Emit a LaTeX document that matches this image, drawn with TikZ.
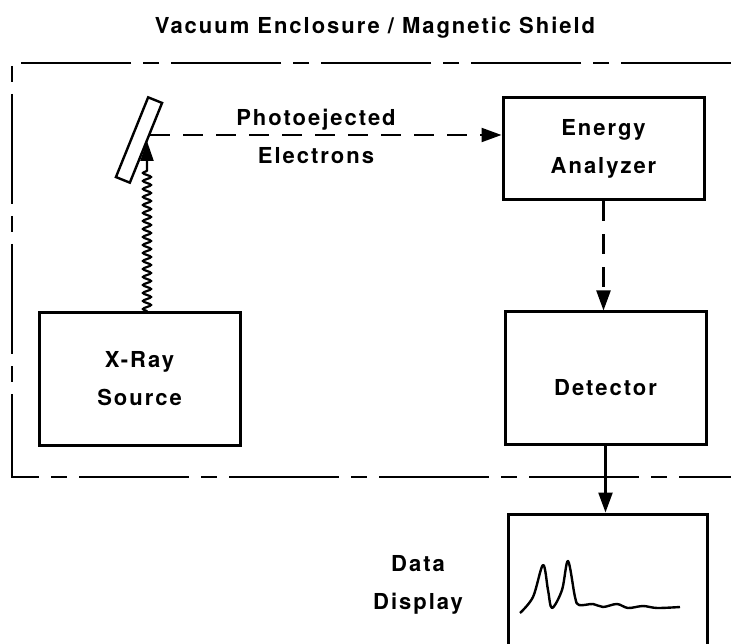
\documentclass[tikz,border=0pt]{standalone}
\usepackage{fontspec}
\newfontfamily\diagfont[LetterSpace=9]{TeX Gyre Heros}
\usetikzlibrary{arrows.meta, positioning, decorations.pathmorphing}

\begin{document}
\begin{tikzpicture}[x=1pt, y=-1pt,
  every node/.style={font=\diagfont\bfseries\fontsize{22}{38}\selectfont, align=center},
  unit/.style={draw, line width=3pt, minimum width=201pt, minimum height=102pt, inner sep=0pt},
  shield/.style={line width=2.6pt, dash pattern=on 110pt off 12pt on 16pt off 12pt},
  beam/.style={line width=2.2pt, dash pattern=on 20pt off 13pt, -{Triangle[length=20pt,width=14pt]}},
  feed/.style={line width=2.4pt, -{Triangle[length=20pt,width=14pt]}},
  xrays/.style={line width=2.2pt, decorate, decoration={snake, amplitude=4pt, segment length=8pt, post length=28pt}, -{Triangle[length=20pt,width=13pt]}}
]
  \useasboundingbox (0,0) rectangle (731,644);
  \clip (0,0) rectangle (731,644);

  % enclosure
  \node (title) at (375,28) {Vacuum Enclosure / Magnetic Shield};
  \draw[shield] (731,63) -- (12,63) -- (12,477) -- (731,477);

  % boxes
  \node[unit] (analyzer) at (603.5,149) {Energy\\Analyzer};
  \node[unit, minimum height=132pt, text height=35pt] (detector) at (605.5,378) {Detector};
  \node[unit, minimum height=132pt] (xray) at (139.5,379) {X-Ray\\Source};
  \node[unit, minimum width=199pt, minimum height=160pt] (display) at (607.5,594) {};
  \node[left=40pt of display, yshift=9pt] (datalbl) {Data\\Display};

  % sample
  \node[draw, line width=2.4pt, rotate=68, minimum width=86pt, minimum height=15pt, inner sep=0pt] (plate) at (139,140) {};
  \coordinate (spot) at (147,141);
  \coordinate (emit) at (150,135);

  \draw[xrays] (xray.north -| spot) -- (spot);
  \draw[beam] (emit) -- (emit -| analyzer.west);
  \node (beamlbl) at (316,136) {Photoejected\\Electrons};
  \draw[beam] (analyzer.south) -- (analyzer.south |- detector.north);
  \draw[feed] (detector.south) -- (detector.south |- display.north);

  % spectrum
  \draw[line width=2.4pt, line join=round] plot[smooth, tension=0.55] coordinates {
    (520,613) (533,597) (543,565) (548,590) (552,608) (562,590) (568,561)
    (575,597) (579,605) (593,604) (603,607) (617,604) (628,608) (643,606)
    (657,608) (680,607)};
\end{tikzpicture}
\end{document}
